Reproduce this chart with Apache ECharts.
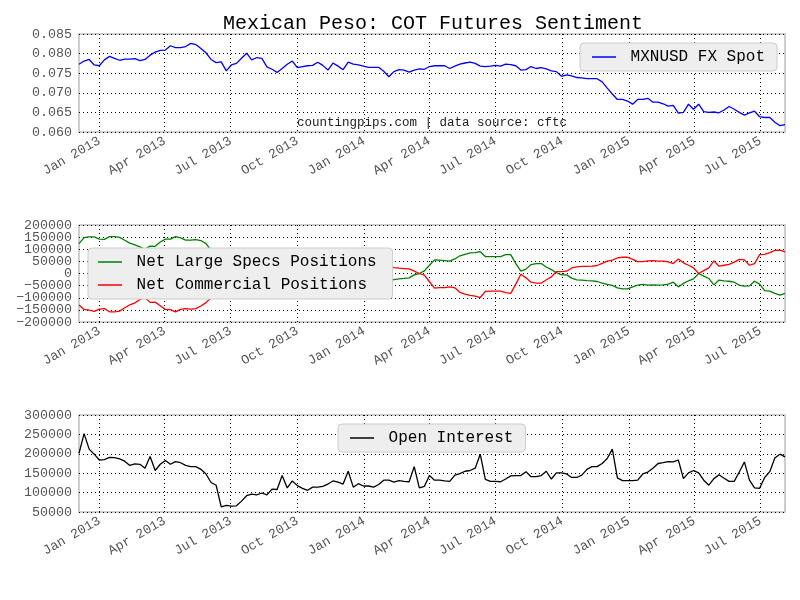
<!DOCTYPE html>
<html>
<head>
<meta charset="utf-8">
<script src="https://cdn.jsdelivr.net/npm/echarts@6/dist/echarts.min.js"></script>
<style>
  html, body { margin: 0; padding: 0; background: #fff; }
  #chart { width: 800px; height: 600px; }
</style>
</head>
<body>
<div id="chart"></div>
<script>
// weekly COT report dates (tuesdays), first and count
const startDate = [2012, 11, 4];
const weekCount = 140;

const spot = [
  0.0773,0.0781,0.0785,0.0771,0.0769,0.0784,0.0793,0.0788,0.0783,0.0786,
  0.0786,0.0787,0.0782,0.0785,0.0796,0.0804,0.0808,0.0809,0.0820,0.0815,
  0.0815,0.0818,0.0826,0.0823,0.0813,0.0802,0.0785,0.0777,0.0779,0.0756,
  0.0771,0.0775,0.0788,0.0801,0.0784,0.0790,0.0788,0.0766,0.0760,0.0752,
  0.0762,0.0773,0.0781,0.0764,0.0767,0.0769,0.0770,0.0778,0.0770,0.0758,
  0.0776,0.0768,0.0759,0.0778,0.0773,0.0771,0.0768,0.0765,0.0765,0.0765,
  0.0755,0.0741,0.0754,0.0759,0.0758,0.0753,0.0758,0.0761,0.0760,0.0767,
  0.0769,0.0769,0.0769,0.0762,0.0768,0.0773,0.0776,0.0778,0.0775,0.0768,
  0.0767,0.0768,0.0770,0.0768,0.0773,0.0772,0.0769,0.0758,0.0759,0.0767,
  0.0762,0.0764,0.0761,0.0756,0.0754,0.0742,0.0746,0.0743,0.0739,0.0738,
  0.0736,0.0736,0.0736,0.0728,0.0712,0.0697,0.0683,0.0683,0.0679,0.0671,
  0.0683,0.0683,0.0686,0.0676,0.0676,0.0672,0.0666,0.0668,0.0648,0.0650,
  0.0671,0.0658,0.0671,0.0652,0.0650,0.0651,0.0649,0.0656,0.0665,0.0658,
  0.0650,0.0643,0.0649,0.0653,0.0639,0.0637,0.0637,0.0625,0.0616,0.0619
];

const largeSpecs = [
  123000,148000,151000,151000,142000,141000,152000,152000,149000,137000,
  125000,118000,110000,100000,113000,112000,130000,142000,142000,152000,
  147000,138000,138000,140000,136000,123000,95000,70000,45000,30000,
  20000,25000,35000,40000,30000,15000,5000,-5000,-15000,-10000,
  0,10000,15000,5000,-5000,-15000,-20000,-25000,-30000,-35000,
  -30000,-25000,-30000,-40000,-45000,-40000,-35000,-40000,-45000,-40000,
  -35000,-30000,-25000,-22000,-20500,-18000,-5500,0,11000,34000,
  56000,55000,53000,51000,60000,73000,79000,85000,86000,90000,
  70000,70000,70000,70000,78000,78000,41000,10000,18000,37000,
  41000,41000,27000,16000,3000,-5500,-5500,-19000,-26000,-27000,
  -29000,-30000,-33000,-40000,-45000,-49000,-59000,-63000,-63000,-55000,
  -48000,-45000,-48000,-47000,-48000,-47000,-44000,-36000,-55000,-41000,
  -30000,-22000,0,-11000,-20500,-47000,-27000,-30000,-32000,-36000,
  -48000,-52000,-51000,-32000,-44000,-71000,-73000,-82000,-89000,-82000
];

const commercial = [
  -130000,-148000,-151000,-156000,-147000,-145000,-158000,-158000,-155000,-141000,
  -129000,-121000,-107000,-100000,-119000,-118000,-133000,-148000,-149000,-158000,
  -148000,-145000,-147000,-145000,-134000,-120000,-100000,-75000,-50000,-35000,
  -25000,-28000,-38000,-43000,-33000,-18000,-8000,3000,12000,8000,
  -3000,-12000,-18000,-8000,2000,12000,17000,22000,27000,32000,
  28000,22000,27000,37000,42000,37000,32000,37000,42000,37000,
  32000,28000,24000,22000,20500,19000,9500,0,-7000,-34000,
  -60000,-58000,-58000,-55000,-59000,-78000,-85000,-90000,-93000,-99000,
  -74000,-73000,-73000,-73000,-79000,-82000,-44000,-3000,-18000,-36000,
  -40000,-40000,-26000,-14000,8000,8000,9500,23000,27000,29000,
  29000,30000,33000,42000,51000,55000,64000,67000,67000,58000,
  49000,49000,52000,53000,51000,51000,48000,41000,60000,44000,
  34000,23000,0,12000,23000,52000,30000,34000,38000,47000,
  58000,56000,34000,41000,78000,79000,86000,95000,96000,89000
];

const openInterest = [
  201000,252000,212000,199000,184000,185000,191000,190000,187000,181000,
  170000,174000,173000,163000,193000,157000,173000,183000,173000,180000,
  177000,170000,167000,167000,160000,148000,126000,119000,63000,67000,
  65000,66000,78000,92000,96000,94000,99000,94000,109000,108000,
  144000,112000,130000,118000,111000,106000,114000,114000,116000,122000,
  130000,127000,122000,155000,114000,123000,117000,117000,114000,121000,
  132000,132000,127000,131000,129000,128000,167000,112000,116000,144000,
  132000,132000,130000,129000,145000,149000,155000,157000,163000,199000,
  134000,129000,129000,128000,135000,143000,144000,144000,154000,141000,
  141000,144000,155000,135000,151000,151000,148000,139000,139000,145000,
  160000,167000,167000,175000,188000,212000,138000,131000,131000,131000,
  132000,148000,153000,163000,175000,177000,180000,179000,184000,136000,
  151000,157000,151000,132000,119000,136000,146000,137000,129000,129000,
  153000,179000,132000,112000,111000,139000,154000,189000,199000,192000
];

// quarter ticks on the date axis
const tickMonths = [
  [2013,0],[2013,3],[2013,6],[2013,9],[2014,0],[2014,3],
  [2014,6],[2014,9],[2015,0],[2015,3],[2015,6]
];
const monthNames = ['Jan','Feb','Mar','Apr','May','Jun','Jul','Aug','Sep','Oct','Nov','Dec'];
// end labels of the positions panel
const positionsEnds = [-200000, 200000];

const dates = [];
for (let i = 0; i < weekCount; i++) {
  dates.push(new Date(startDate[0], startDate[1], startDate[2] + 7 * i).getTime());
}
const quarterTicks = tickMonths.map(m => new Date(m[0], m[1], 1).getTime());
const xMin = dates[0];
const xMax = dates[dates.length - 1];

const pair = arr => arr.map((v, i) => [dates[i], v]);
const FONT = 'Liberation Mono';
const signed = v => (v < 0 ? '\u2212' + Math.abs(v) : String(v));

const chart = echarts.init(document.getElementById('chart'), null, { renderer: 'canvas' });

// value axis holding timestamps, so the quarter ticks can be set by hand
function makeX(idx) {
  return {
    type: 'value',
    gridIndex: idx,
    min: xMin,
    max: xMax,
    axisLine: { show: false },
    axisTick: { show: false, customValues: quarterTicks },
    axisLabel: {
      customValues: quarterTicks,
      rotate: 30,
      margin: 8,
      fontFamily: FONT,
      fontSize: 13.3,
      color: '#555',
      formatter: v => { const d = new Date(v); return monthNames[d.getMonth()] + ' ' + d.getFullYear(); }
    },
    splitLine: { show: true, lineStyle: { color: '#000', width: 1, type: [1, 3] } }
  };
}

function makeY(idx, min, max, step, fmt, showEnds) {
  return {
    type: 'value',
    gridIndex: idx,
    position: 'left',
    min: min,
    max: max,
    interval: step,
    axisLine: { show: false },
    axisTick: { show: false },
    axisLabel: {
      fontFamily: FONT, fontSize: 13.3, color: '#555', margin: 7, formatter: fmt,
      showMinLabel: showEnds, showMaxLabel: showEnds, hideOverlap: false
    },
    splitLine: { show: true, lineStyle: { color: '#000', width: 1, type: [1, 3] } }
  };
}

const legendBase = {
  orient: 'vertical',
  backgroundColor: '#eeeeee',
  borderColor: '#cccccc',
  borderWidth: 1,
  borderRadius: 4,
  icon: 'path://M0,0 H24 V1.5 H0 Z',
  itemWidth: 24,
  itemHeight: 14,
  itemGap: 7,
  textStyle: { fontFamily: FONT, fontSize: 16, color: '#000' },
  formatter: name => ' ' + name
};

const option = {
  animation: false,
  backgroundColor: '#fff',
  title: [
    {
      text: 'Mexican Peso: COT Futures Sentiment',
      left: 218,
      top: 9,
      textStyle: { fontFamily: FONT, fontSize: 20, fontWeight: 'normal', color: '#000' }
    },
    {
      text: 'countingpips.com | data source: cftc',
      left: 297,
      top: 116,
      padding: 0,
      textStyle: { fontFamily: FONT, fontSize: 12.5, fontWeight: 'normal', color: '#222' }
    }
  ],
  legend: [
    Object.assign({}, legendBase, {
      data: ['MXNUSD FX Spot'], right: 23, top: 43, padding: [6, 12, 6, 12]
    }),
    Object.assign({}, legendBase, {
      data: ['Net Large Specs Positions', 'Net Commercial Positions'], left: 88, top: 248, padding: [6, 16, 6, 10]
    }),
    Object.assign({}, legendBase, {
      data: ['Open Interest'], left: 338, top: 424, padding: [6, 12, 6, 12]
    })
  ],
  grid: [
    { left: 79, right: 15, top: 34, height: 98, show: true, borderColor: '#bfbfbf', borderWidth: 1.5, backgroundColor: 'transparent' },
    { left: 79, right: 15, top: 225, height: 97, show: true, borderColor: '#bfbfbf', borderWidth: 1.5, backgroundColor: 'transparent' },
    { left: 79, right: 15, top: 415, height: 97, show: true, borderColor: '#bfbfbf', borderWidth: 1.5, backgroundColor: 'transparent' }
  ],
  xAxis: [makeX(0), makeX(1), makeX(2)],
  yAxis: [
    makeY(0, 0.060, 0.085, 0.005, v => v.toFixed(3), true),
    makeY(1, -200000, 200000, 50000, signed, false),
    makeY(2, 50000, 300000, 50000, v => String(v), true),
    // second axis on the positions panel, only for the two end labels
    {
      type: 'value', gridIndex: 1, position: 'left', offset: 0,
      min: -200000, max: 200000, interval: 50000,
      axisLine: { show: false }, axisTick: { show: false }, splitLine: { show: false },
      axisLabel: {
        customValues: positionsEnds, fontFamily: FONT, fontSize: 13.3, color: '#555', margin: 7,
        formatter: signed, showMinLabel: true, showMaxLabel: true
      }
    }
  ],
  series: [
    { name: 'MXNUSD FX Spot', type: 'line', xAxisIndex: 0, yAxisIndex: 0, data: pair(spot),
      symbol: 'none', lineStyle: { color: '#0000ff', width: 1.3 }, itemStyle: { color: '#0000ff' } },
    { name: 'Net Large Specs Positions', type: 'line', xAxisIndex: 1, yAxisIndex: 1, data: pair(largeSpecs),
      symbol: 'none', lineStyle: { color: '#008000', width: 1.3 }, itemStyle: { color: '#008000' } },
    { name: 'Net Commercial Positions', type: 'line', xAxisIndex: 1, yAxisIndex: 1, data: pair(commercial),
      symbol: 'none', lineStyle: { color: '#ff0000', width: 1.3 }, itemStyle: { color: '#ff0000' } },
    { name: 'Open Interest', type: 'line', xAxisIndex: 2, yAxisIndex: 2, data: pair(openInterest),
      symbol: 'none', lineStyle: { color: '#000000', width: 1.3 }, itemStyle: { color: '#000000' } }
  ]
};

chart.setOption(option);
window.addEventListener('resize', chart.resize);
</script>
</body>
</html>
